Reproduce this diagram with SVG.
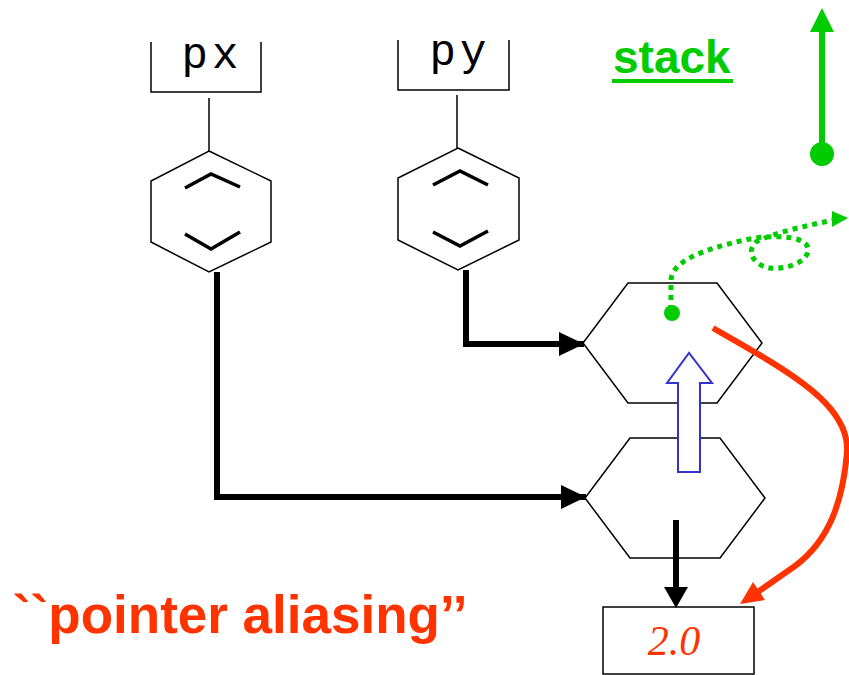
<svg xmlns="http://www.w3.org/2000/svg" width="849" height="675" viewBox="0 0 849 675">
<style>
.thin{fill:none;stroke:#000;stroke-width:1.5}
.hex{fill:#fff;stroke:#000;stroke-width:1.5}
.chev{fill:none;stroke:#000;stroke-width:3.5}
.var{font-family:"Liberation Mono","Courier New",monospace;font-size:44px;fill:#000;letter-spacing:4px}
.blk{fill:none;stroke:#000;stroke-width:6}
.grn{fill:#00cc00}
.red{fill:#ff3300}
</style>
<defs>
<marker id="ah" markerUnits="userSpaceOnUse" markerWidth="26" markerHeight="24" refX="25" refY="12" orient="auto">
<path d="M0,0 L25,12 L0,24 Z" fill="#000"/>
</marker>
</defs>
<g id="px">
<path class="thin" d="M151,42 V92 H261 V42"/>
<text class="var" x="212" y="68" text-anchor="middle">px</text>
<path class="thin" d="M209,98 V151"/>
<polygon class="hex" points="209,151 271,181 271,242 209,272 151,242 151,181"/>
<path class="chev" d="M185,188 L211,174 L240,187"/>
<path class="chev" d="M185,234 L211,249 L240,232"/>
</g>
<g id="py">
<path class="thin" d="M398,40 V90 H509 V40"/>
<text class="var" x="460" y="65" text-anchor="middle">py</text>
<path class="thin" d="M457,95 V148"/>
<polygon class="hex" points="458,148 519,178 519,240 458,270 398,240 398,178"/>
<path class="chev" d="M433,185 L460,171 L488,185"/>
<path class="chev" d="M433,232 L460,246 L488,231"/>
</g>
<g id="hexA">
<polygon class="hex" points="628,283 717,283 762,343 717,403 628,403 583,343"/>
</g>
<g id="hexB">
<polygon class="hex" points="630,438 720,438 765,498 720,558 630,558 585,498"/>
</g>
<g id="value">
<rect x="603" y="607" width="151" height="67" fill="#fff" stroke="#000" stroke-width="1.5"/>
<text x="674" y="655" text-anchor="middle" font-family="Liberation Serif,'Times New Roman',serif" font-style="italic" font-size="42" class="red">2.0</text>
</g>
<g id="stack">
<text x="613" y="73" font-family="Liberation Sans,Arial,sans-serif" font-weight="bold" font-size="46" class="grn">stack</text>
<rect x="612" y="79" width="121" height="4" class="grn"/>
<line x1="822" y1="154" x2="822" y2="30" stroke="#00cc00" stroke-width="6"/>
<polygon points="810,32 834,32 822,8" class="grn"/>
<circle cx="822" cy="154" r="12" class="grn"/>
</g>
<g id="label">
<text x="13" y="633" font-family="Liberation Sans,Arial,sans-serif" font-weight="bold" font-size="53" class="red">``pointer aliasing’’</text>
</g>
<g id="connectors">
<path class="blk" d="M217,272 V497 H586" marker-end="url(#ah)"/>
<path class="blk" d="M466,270 V344 H584" marker-end="url(#ah)"/>
<line x1="676" y1="520" x2="676" y2="590" stroke="#000" stroke-width="6"/>
<polygon points="664,587 688,587 676,608" fill="#000"/>
<polygon points="678,472 700,472 700,383 712,383 689,353 667,383 678,383" fill="#fff" stroke="#3333cc" stroke-width="2"/>
<path d="M713,328 C790,372 850,405 847,452 C843,500 830,540 795,566 L752,596" fill="none" stroke="#ff3300" stroke-width="6"/>
<polygon points="740,604 753,582 765,600" class="red"/>
<path d="M671,310 L671,280 C672,262 700,250 745,240 C765,235 805,234 808,248 C810,262 785,270 770,268 C755,266 745,252 756,242 C775,232 810,225 834,220" fill="none" stroke="#00cc00" stroke-width="5" stroke-dasharray="5,5"/>
<polygon points="848,218 832,211 832,227" class="grn"/>
<circle cx="672" cy="313" r="8" class="grn"/>
</g>
</svg>
